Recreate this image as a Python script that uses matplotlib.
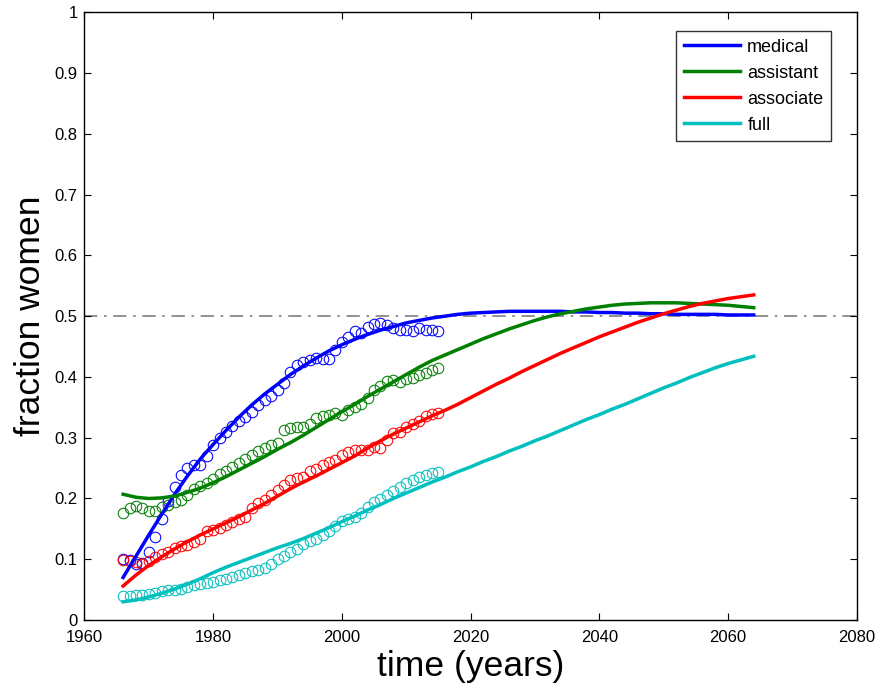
import matplotlib
matplotlib.use("Agg")
import matplotlib.pyplot as plt

plt.rcParams['font.family'] = ['Liberation Sans', 'DejaVu Sans']

years = list(range(1966, 2016))

medical = [0.100, 0.098, 0.093, 0.094, 0.112, 0.137, 0.166, 0.196, 0.219, 0.238,
           0.250, 0.255, 0.255, 0.270, 0.288, 0.300, 0.310, 0.320, 0.327, 0.334,
           0.342, 0.354, 0.362, 0.368, 0.378, 0.390, 0.408, 0.419, 0.425, 0.428,
           0.432, 0.430, 0.430, 0.445, 0.458, 0.465, 0.476, 0.473, 0.483, 0.487,
           0.488, 0.485, 0.481, 0.478, 0.478, 0.476, 0.480, 0.477, 0.477, 0.476]

assistant = [0.176, 0.184, 0.188, 0.184, 0.180, 0.180, 0.186, 0.190, 0.195, 0.197,
             0.205, 0.215, 0.220, 0.226, 0.232, 0.240, 0.245, 0.252, 0.258, 0.265,
             0.271, 0.278, 0.283, 0.288, 0.292, 0.312, 0.316, 0.318, 0.318, 0.323,
             0.332, 0.336, 0.337, 0.340, 0.337, 0.345, 0.351, 0.356, 0.365, 0.378,
             0.385, 0.394, 0.395, 0.392, 0.397, 0.399, 0.403, 0.407, 0.411, 0.414]

associate = [0.098, 0.097, 0.095, 0.093, 0.097, 0.104, 0.108, 0.112, 0.118, 0.121,
             0.124, 0.129, 0.134, 0.146, 0.148, 0.152, 0.157, 0.162, 0.166, 0.170,
             0.184, 0.192, 0.197, 0.205, 0.214, 0.222, 0.230, 0.233, 0.236, 0.246,
             0.249, 0.255, 0.260, 0.264, 0.271, 0.276, 0.279, 0.280, 0.280, 0.285,
             0.283, 0.296, 0.308, 0.310, 0.318, 0.323, 0.328, 0.335, 0.339, 0.340]

full = [0.040, 0.040, 0.041, 0.042, 0.043, 0.045, 0.047, 0.050, 0.049, 0.051,
        0.055, 0.057, 0.059, 0.061, 0.063, 0.066, 0.068, 0.071, 0.074, 0.077,
        0.080, 0.082, 0.085, 0.092, 0.100, 0.106, 0.112, 0.117, 0.125, 0.130,
        0.133, 0.140, 0.146, 0.154, 0.163, 0.166, 0.170, 0.176, 0.186, 0.194,
        0.199, 0.206, 0.213, 0.219, 0.225, 0.230, 0.235, 0.239, 0.242, 0.244]

fit_years = list(range(1966, 2066, 2))

fit_medical = [0.070, 0.105, 0.140, 0.174, 0.207, 0.237, 0.265, 0.289, 0.312, 0.334,
               0.354, 0.372, 0.388, 0.404, 0.418, 0.431, 0.443, 0.453, 0.462, 0.470,
               0.477, 0.483, 0.489, 0.493, 0.497, 0.500, 0.503, 0.505, 0.506, 0.507,
               0.508, 0.508, 0.508, 0.508, 0.508, 0.507, 0.507, 0.506, 0.506, 0.505,
               0.505, 0.504, 0.504, 0.503, 0.503, 0.503, 0.503, 0.502, 0.502, 0.502]

fit_assistant = [0.207, 0.202, 0.200, 0.201, 0.204, 0.210, 0.217, 0.226, 0.236, 0.247,
                 0.258, 0.269, 0.281, 0.292, 0.304, 0.317, 0.330, 0.343, 0.355, 0.368,
                 0.380, 0.392, 0.404, 0.416, 0.427, 0.436, 0.445, 0.454, 0.463, 0.471,
                 0.479, 0.486, 0.493, 0.499, 0.504, 0.508, 0.512, 0.515, 0.518, 0.520,
                 0.521, 0.522, 0.522, 0.522, 0.521, 0.520, 0.519, 0.518, 0.516, 0.514]

fit_associate = [0.056, 0.074, 0.090, 0.104, 0.117, 0.129, 0.140, 0.150, 0.160, 0.170,
                 0.181, 0.192, 0.204, 0.216, 0.227, 0.237, 0.248, 0.259, 0.270, 0.283,
                 0.295, 0.306, 0.316, 0.326, 0.336, 0.345, 0.355, 0.366, 0.377, 0.388,
                 0.398, 0.409, 0.419, 0.429, 0.439, 0.448, 0.457, 0.466, 0.474, 0.482,
                 0.490, 0.497, 0.504, 0.510, 0.516, 0.521, 0.525, 0.529, 0.532, 0.535]

fit_full = [0.030, 0.033, 0.038, 0.044, 0.051, 0.059, 0.068, 0.078, 0.087, 0.095,
            0.103, 0.111, 0.119, 0.126, 0.134, 0.143, 0.152, 0.162, 0.171, 0.181,
            0.190, 0.200, 0.209, 0.218, 0.227, 0.235, 0.244, 0.252, 0.261, 0.269,
            0.278, 0.286, 0.295, 0.303, 0.312, 0.321, 0.330, 0.338, 0.347, 0.355,
            0.364, 0.373, 0.382, 0.390, 0.399, 0.407, 0.415, 0.422, 0.428, 0.434]

labels = ['medical', 'assistant', 'associate', 'full']
colors = ['#0000ff', '#008000', '#ff0000', '#00bfbf']
xticks = [1960, 1980, 2000, 2020, 2040, 2060, 2080]
yticks = [0, 0.1, 0.2, 0.3, 0.4, 0.5, 0.6, 0.7, 0.8, 0.9, 1]
ytick_labels = ['0', '0.1', '0.2', '0.3', '0.4', '0.5', '0.6', '0.7', '0.8', '0.9', '1']
parity = 0.5

fig = plt.figure(figsize=(8.81, 6.89), dpi=100)
ax = fig.add_axes([0.0959, 0.1001, 0.9724 - 0.0959, 0.9821 - 0.1001])

data = [medical, assistant, associate, full]
fits = [fit_medical, fit_assistant, fit_associate, fit_full]

for d, c in zip(data, colors):
    ax.plot(years, d, linestyle='none', marker='o', markersize=7.6,
            markerfacecolor='none', markeredgecolor=c, markeredgewidth=0.75)

lines = []
for f, c, lab in zip(fits, colors, labels):
    ln, = ax.plot(fit_years, f, color=c, linewidth=2.5, label=lab)
    lines.append(ln)

ax.axhline(parity, color='#7f7f7f', linestyle=(0, (8, 4, 1.5, 4)), linewidth=1.2, zorder=0)

ax.set_xlim(1960, 2080)
ax.set_ylim(0, 1)
ax.set_xticks(xticks)
ax.set_xticklabels([str(x) for x in xticks])
ax.set_yticks(yticks)
ax.set_yticklabels(ytick_labels)
ax.tick_params(direction='in', length=5, width=0.8, labelsize=12, top=True, right=True)
ax.tick_params(axis='x', pad=7)
ax.tick_params(axis='y', pad=5)
for s in ax.spines.values():
    s.set_linewidth(1.0)

ax.set_xlabel('time (years)', fontsize=25.5, labelpad=4)
ax.set_ylabel('fraction women', fontsize=25.5, labelpad=5)

leg = ax.legend(handles=lines, loc='upper right', bbox_to_anchor=(0.9667, 0.9692),
                borderaxespad=0.0,
                fontsize=13.0, handlelength=3.1, frameon=True, fancybox=False,
                edgecolor='black', borderpad=0.42, labelspacing=0.5, handletextpad=0.4)
leg.get_frame().set_linewidth(1.0)

fig.savefig('out.png', dpi=100)
